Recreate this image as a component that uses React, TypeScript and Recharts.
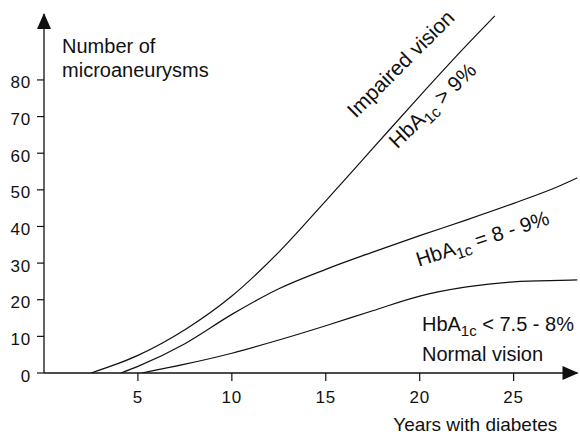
import { LineChart, Line, XAxis, YAxis, ReferenceDot } from "recharts";

// Years with diabetes vs number of microaneurysms
const highYears = [2.5, 5, 7.5, 10, 12.5, 15, 17.5, 20, 22.5, 24];
const highCounts = [0, 4.8, 11.8, 21, 33, 47, 61.3, 75.6, 89.5, 97.5];

const midYears = [4.1, 5, 7.5, 10, 12.5, 15, 17.5, 20, 22.5, 25, 27.5, 28.4];
const midCounts = [0, 1.8, 8, 16, 23, 28.3, 33, 37.5, 41.8, 46.3, 51.2, 53.3];

const lowYears = [5.2, 7.5, 10, 12.5, 15, 17.5, 20, 22.5, 25, 27.5, 28.4];
const lowCounts = [0, 2.4, 5.4, 9, 12.9, 17, 21, 23.5, 24.9, 25.3, 25.4];

const xTicks = [5, 10, 15, 20, 25];
const yTicks = [0, 10, 20, 30, 40, 50, 60, 70, 80];

const X_MAX = 28.4;
const Y_MAX = 98;

const toPoints = (xs: number[], ys: number[]) =>
  xs.map((x, i) => ({ x, y: ys[i] }));

const highData = toPoints(highYears, highCounts);
const midData = toPoints(midYears, midCounts);
const lowData = toPoints(lowYears, lowCounts);

const FONT = "'Liberation Sans', Arial, sans-serif";
const INK = "#111";

type NoteProps = {
  cx?: number;
  cy?: number;
  angle?: number;
  size?: number;
  main?: string;
  sub?: string;
  rest?: string;
};

const Note = ({ cx = 0, cy = 0, angle, size = 20, main, sub, rest }: NoteProps) => (
  <text
    x={cx}
    y={cy}
    fontFamily={FONT}
    fontSize={size}
    fill={INK}
    transform={angle ? `rotate(${angle} ${cx} ${cy})` : undefined}
  >
    <tspan>{main}</tspan>
    {sub && (
      <>
        <tspan fontSize={size * 0.75} dy={5}>
          {sub}
        </tspan>
        <tspan dy={-5}>{rest}</tspan>
      </>
    )}
  </text>
);

const notes = [
  { x: 0.96, y: 87.45, main: "Number of" },
  { x: 0.96, y: 80.74, main: "microaneurysms" },
  { x: 18.59, y: -15.9, main: "Years with diabetes", size: 19 },
  { x: 20.12, y: 11.33, main: "HbA", sub: "1c", rest: " < 7.5 - 8%" },
  { x: 20.12, y: 3.28, main: "Normal vision" },
  { x: 19.95, y: 29.0, angle: -18, size: 20.5, main: "HbA", sub: "1c", rest: " = 8 - 9%" },
  { x: 18.8, y: 61.0, angle: -44, size: 21, main: "HbA", sub: "1c", rest: " > 9%" },
  { x: 16.6, y: 69.4, angle: -45, size: 21, main: "Impaired vision" },
];

const YTick = (props: any) => {
  const { x, y, payload } = props;
  return (
    <text
      x={x}
      y={y + 2.5}
      dy="0.355em"
      textAnchor="end"
      fontFamily={FONT}
      fontSize={17}
      letterSpacing={0.8}
      fill={INK}
    >
      {payload.value}
    </text>
  );
};

const XTick = (props: any) => {
  const { x, y, payload } = props;
  return (
    <text
      x={x}
      y={y}
      dy="0.71em"
      textAnchor="middle"
      fontFamily={FONT}
      fontSize={17}
      letterSpacing={0.8}
      fill={INK}
    >
      {payload.value}
    </text>
  );
};

const ArrowRight = ({ cx = 0, cy = 0 }: { cx?: number; cy?: number }) => (
  <path
    d={`M${cx + 1},${cy} L${cx - 15},${cy - 7} L${cx - 15},${cy + 7} Z`}
    fill={INK}
  />
);

const ArrowUp = ({ cx = 0, cy = 0 }: { cx?: number; cy?: number }) => (
  <path
    d={`M${cx},${cy - 1} L${cx - 7},${cy + 15} L${cx + 7},${cy + 15} Z`}
    fill={INK}
  />
);

export default function App() {
  return (
    <div style={{ position: "absolute", left: 0, top: 0, background: "#fff" }}>
      <LineChart
        width={580}
        height={435}
        margin={{ top: 14, right: 2.5, bottom: 32, left: 0 }}
      >
        <XAxis
          type="number"
          dataKey="x"
          domain={[0, X_MAX]}
          ticks={xTicks}
          allowDataOverflow
          axisLine={{ stroke: INK, strokeWidth: 1.3 }}
          tickLine={{ stroke: INK, strokeWidth: 1.2 }}
          tickSize={8}
          tickMargin={10}
          tick={<XTick />}
          height={30}
        />
        <YAxis
          type="number"
          dataKey="y"
          domain={[0, Y_MAX]}
          ticks={yTicks}
          allowDataOverflow
          axisLine={{ stroke: INK, strokeWidth: 1.3 }}
          tickLine={{ stroke: INK, strokeWidth: 1.2 }}
          tickSize={7}
          tickMargin={6}
          tick={<YTick />}
          width={44}
        />
        <Line
          data={highData}
          dataKey="y"
          type="monotone"
          stroke={INK}
          strokeWidth={1.2}
          dot={false}
          isAnimationActive={false}
        />
        <Line
          data={midData}
          dataKey="y"
          type="monotone"
          stroke={INK}
          strokeWidth={1.2}
          dot={false}
          isAnimationActive={false}
        />
        <Line
          data={lowData}
          dataKey="y"
          type="monotone"
          stroke={INK}
          strokeWidth={1.2}
          dot={false}
          isAnimationActive={false}
        />
        <ReferenceDot
          x={X_MAX}
          y={0}
          ifOverflow="visible"
          shape={(p: any) => <ArrowRight cx={p.cx} cy={p.cy} />}
        />
        <ReferenceDot
          x={0}
          y={Y_MAX}
          ifOverflow="visible"
          shape={(p: any) => <ArrowUp cx={p.cx} cy={p.cy} />}
        />
        {notes.map((n, i) => (
          <ReferenceDot
            key={i}
            x={n.x}
            y={n.y}
            ifOverflow="visible"
            shape={(p: any) => (
              <Note
                cx={p.cx}
                cy={p.cy}
                angle={n.angle}
                size={n.size}
                main={n.main}
                sub={n.sub}
                rest={n.rest}
              />
            )}
          />
        ))}
      </LineChart>
    </div>
  );
}
